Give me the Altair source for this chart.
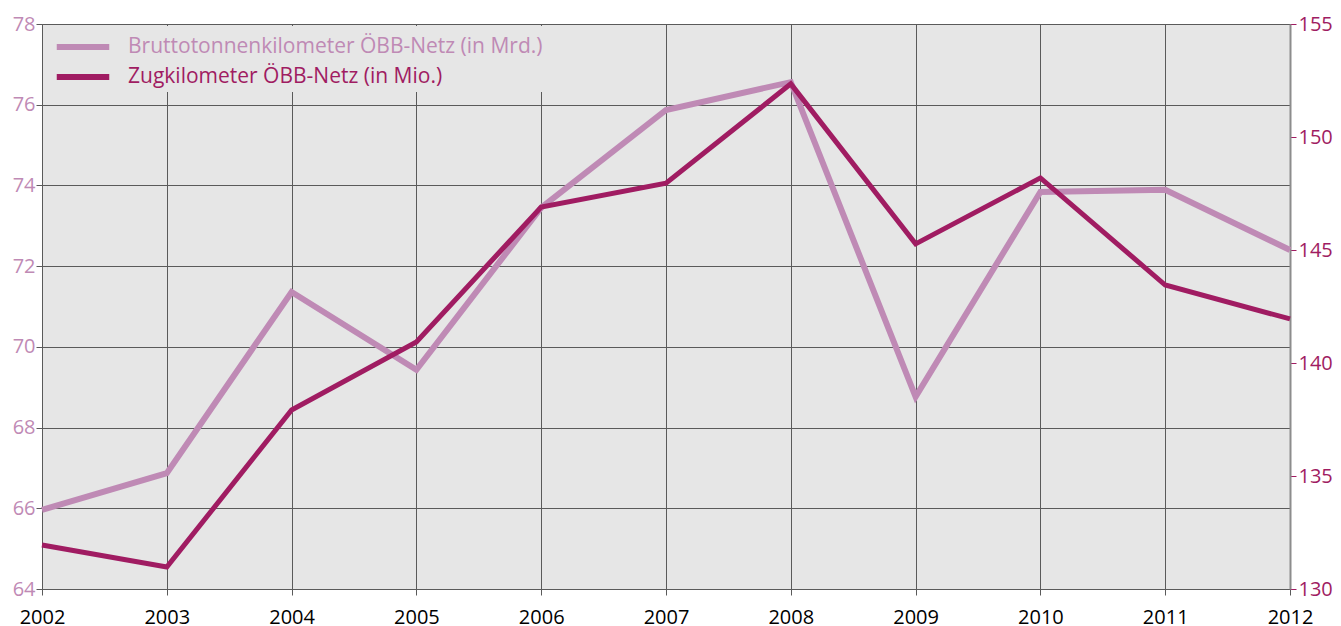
import altair as alt
import pandas as pd

years = [2002, 2003, 2004, 2005, 2006, 2007, 2008, 2009, 2010, 2011, 2012]
brutto = [65.96, 66.87, 71.36, 69.43, 73.45, 75.87, 76.56, 68.76, 73.84, 73.89, 72.40]
zug = [131.95, 130.97, 137.92, 140.93, 146.90, 147.96, 152.35, 145.27, 148.19, 143.45, 141.95]
label_brutto = "Bruttotonnenkilometer ÖBB-Netz (in Mrd.)"
label_zug = "Zugkilometer ÖBB-Netz (in Mio.)"
left_ticks = [64, 66, 68, 70, 72, 74, 76, 78]
right_ticks = [130, 135, 140, 145, 150, 155]

light = "#bf8ab5"
dark = "#a01c62"
grid = "#5a5a5a"
font = "Open Sans"
fs = 20

df = pd.DataFrame(
    {"Jahr": years * 2,
     "Wert": brutto + zug,
     "Serie": [label_brutto] * len(years) + [label_zug] * len(years)}
)

color = alt.Color(
    "Serie:N",
    scale=alt.Scale(domain=[label_brutto, label_zug], range=[light, dark]),
    legend=alt.Legend(
        title=None, orient="none", legendX=4, legendY=2, fillColor="#e6e6e6",
        padding=3, symbolType="M-1.75,0H1.75", symbolStrokeWidth=6, symbolSize=900,
        symbolOffset=16, labelOffset=27, labelLimit=0,
        labelFont=font, labelFontSize=21, rowPadding=0,
        labelColor=alt.ExprRef(expr=f"datum.label == '{label_zug}' ? '{dark}' : '{light}'"),
    ),
)

x = alt.X(
    "Jahr:Q",
    scale=alt.Scale(domain=[2002, 2012], nice=False, zero=False),
    axis=alt.Axis(values=years, format="d", title=None, grid=True, gridColor=grid,
                  gridOpacity=1, domainColor=grid, tickColor=grid, tickSize=6,
                  labelColor="#000000", labelFontSize=fs, labelFont=font, labelPadding=12,
                  labelFlush=False, labelOverlap=False),
)

base = alt.Chart(df).encode(x=x, color=color)

left = base.transform_filter(alt.datum.Serie == label_brutto).mark_line(strokeWidth=6).encode(
    y=alt.Y("Wert:Q", scale=alt.Scale(domain=[64, 78], nice=False, zero=False),
            axis=alt.Axis(orient="left", values=left_ticks, title=None, grid=True,
                          gridColor=grid, gridOpacity=1, domainColor=grid,
                          tickColor=grid, tickSize=6, labelColor=light,
                          labelFontSize=fs, labelFont=font, labelPadding=1))
)

right = base.transform_filter(alt.datum.Serie == label_zug).mark_line(strokeWidth=5).encode(
    y=alt.Y("Wert:Q", scale=alt.Scale(domain=[130, 155], nice=False, zero=False),
            axis=alt.Axis(orient="right", values=right_ticks, title=None, grid=False,
                          domainColor="#8c8c8c", domainWidth=2, tickColor=dark, tickSize=6,
                          labelColor=dark, labelFontSize=fs, labelFont=font, labelPadding=2))
)

chart = alt.layer(left, right).resolve_scale(y="independent").properties(
    width=1248, height=565,
    padding={"top": 6, "left": 4, "right": 0, "bottom": 4},
).configure_view(fill="#e6e6e6", strokeWidth=0)

chart.save("out.html", embed_options={"renderer": "svg", "actions": False})
